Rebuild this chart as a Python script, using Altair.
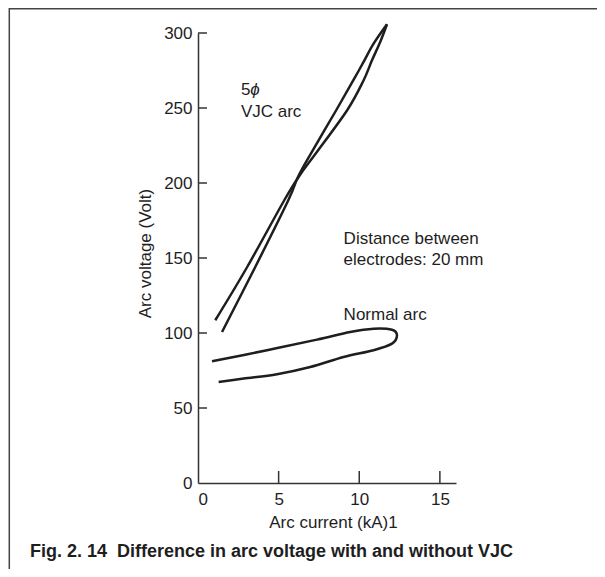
import altair as alt
import pandas as pd

# ---- data ----
# VJC arc: two branches that meet at the tip
vjc_a_current = [1.07, 3.05, 5.35, 6.3, 7.3, 9.25, 10.25, 10.79, 11.3, 11.72]
vjc_a_voltage = [108.5, 144, 188.5, 205, 219.6, 248.5, 268, 281.8, 294, 305.8]
vjc_b_current = [11.72, 10.89, 10.32, 9.75, 8.57, 7.0, 6.2, 5.6, 3.55, 1.49]
vjc_b_voltage = [305.8, 292.9, 281.8, 270.7, 248.5, 219.6, 204, 188.5, 144, 100.7]

normal_current = [0.87, 4.28, 7.38, 9.44, 10.89, 12.03, 12.34, 12.03,
                  10.89, 9.03, 6.96, 4.9, 2.83, 1.28]
normal_voltage = [81.1, 88.5, 95.6, 100.7, 102.9, 102.2, 98.5, 92.9,
                  88.5, 84.0, 77.3, 72.5, 69.6, 67.3]

x_ticks = [5, 10, 15]
y_ticks = [50, 100, 150, 200, 250, 300]

ann_text = ["5", "VJC arc", "Distance between", "electrodes: 20 mm", "Normal arc"]
ann_x = [2.66, 2.66, 9.03, 9.03, 9.03]
ann_y = [258.5, 244.0, 159.6, 145.6, 108.9]
phi_text = ["\u03d5"]
phi_x = [3.24]
phi_y = [258.5]

caption = "Fig. 2. 14\u00a0\u00a0Difference in arc voltage with and without VJC"

FONT = "Liberation Sans"
INK = "#1e1e1e"

vjc_df = pd.concat([
    pd.DataFrame({"current": vjc_a_current, "voltage": vjc_a_voltage,
                  "branch": "A", "idx": range(len(vjc_a_current))}),
    pd.DataFrame({"current": vjc_b_current, "voltage": vjc_b_voltage,
                  "branch": "B", "idx": range(len(vjc_b_current))}),
], ignore_index=True)
normal_df = pd.DataFrame({"current": normal_current, "voltage": normal_voltage,
                          "idx": range(len(normal_current))})

xscale = alt.Scale(domain=[0, 16], nice=False, zero=False)
yscale = alt.Scale(domain=[0, 300], nice=False, zero=False)

x_axis = alt.Axis(values=[0, 5, 10, 15], ticks=False, tickSize=0, grid=False,
                  domainColor="#333", domainWidth=1.5,
                  labelFont=FONT, labelFontSize=17, labelColor=INK, labelPadding=8,
                  title="Arc current (kA)1", titleFont=FONT, titleFontSize=17,
                  titleFontWeight="normal", titleColor=INK, titleX=135, titlePadding=7)
y_axis = alt.Axis(values=[0, 50, 100, 150, 200, 250, 300], ticks=False, tickSize=0,
                  grid=False, domainColor="#333", domainWidth=1.5,
                  labelFont=FONT, labelFontSize=17, labelColor=INK, labelPadding=6,
                  title="Arc voltage (Volt)", titleFont=FONT, titleFontSize=17,
                  titleFontWeight="normal", titleColor=INK, titleX=-44, titleY=220)


def X(field="current"):
    return alt.X(f"{field}:Q", scale=xscale, axis=x_axis)


def Y(field="voltage"):
    return alt.Y(f"{field}:Q", scale=yscale, axis=y_axis)


vjc = alt.Chart(vjc_df).mark_line(color=INK, strokeWidth=2.5,
                                  interpolate="cardinal").encode(
    x=X(), y=Y(), detail="branch:N", order="idx:Q")

normal = alt.Chart(normal_df).mark_line(color=INK, strokeWidth=2.5,
                                        interpolate="cardinal").encode(
    x=X(), y=Y(), order="idx:Q")

xt_df = pd.DataFrame({"current": x_ticks, "voltage": [0] * len(x_ticks),
                      "voltage_end": [8] * len(x_ticks)})
yt_df = pd.DataFrame({"voltage": y_ticks, "current": [0] * len(y_ticks),
                      "current_end": [0.56] * len(y_ticks)})

xticks = alt.Chart(xt_df).mark_rule(color="#333", strokeWidth=1.5).encode(
    x=X(), y=Y(), y2="voltage_end:Q")
yticks = alt.Chart(yt_df).mark_rule(color="#333", strokeWidth=1.5).encode(
    y=Y(), x=X(), x2="current_end:Q")

ann_df = pd.DataFrame({"current": ann_x, "voltage": ann_y, "text": ann_text})
ann = alt.Chart(ann_df).mark_text(align="left", baseline="alphabetic", font=FONT,
                                  fontSize=17, color=INK).encode(
    x=X(), y=Y(), text="text:N")

phi_df = pd.DataFrame({"current": phi_x, "voltage": phi_y, "text": phi_text})
phi = alt.Chart(phi_df).mark_text(align="left", baseline="alphabetic", font=FONT,
                                  fontSize=17, fontStyle="italic", color=INK).encode(
    x=X(), y=Y(), text="text:N")

cap_df = pd.DataFrame({"caption": [caption]})
cap = alt.Chart(cap_df).mark_text(align="left", baseline="alphabetic", font=FONT,
                                  fontSize=18, fontWeight="bold", color=INK).encode(
    x=alt.value(-168), y=alt.value(524), text="caption:N")

one = pd.DataFrame({"k": [0]})
top_border = alt.Chart(one).mark_rule(color="#444", strokeWidth=1.5).encode(
    x=alt.value(-189), x2=alt.value(400), y=alt.value(-24.2))
left_border = alt.Chart(one).mark_rule(color="#444", strokeWidth=1.5).encode(
    x=alt.value(-188.7), y=alt.value(-25), y2=alt.value(540))

chart = alt.layer(vjc, normal, xticks, yticks, ann, phi, cap, top_border, left_border).properties(
    width=258, height=450,
    background="white",
    autosize=alt.AutoSizeParams(type="none"),
    padding={"left": 190, "top": 25, "right": 141, "bottom": 86},
).configure_view(stroke="transparent", strokeWidth=0)

chart.save("out.html", embed_options={"renderer": "svg", "actions": False})
